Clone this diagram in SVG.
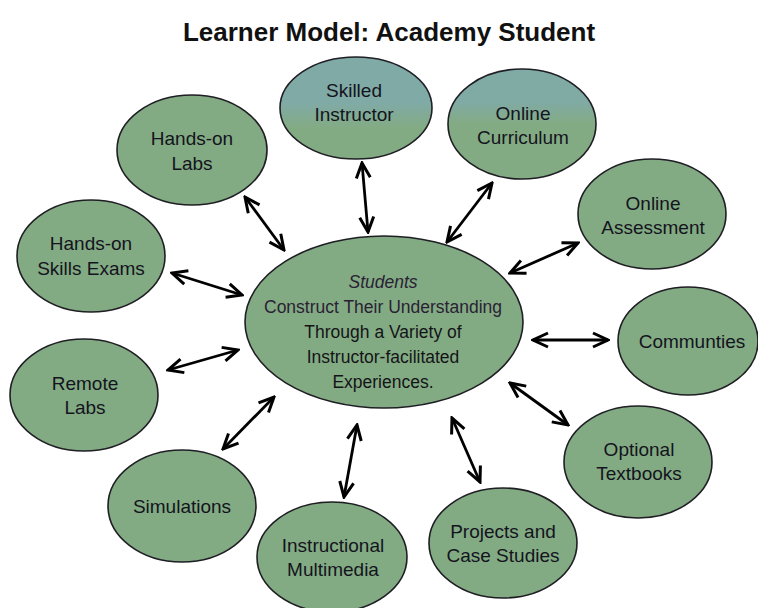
<svg xmlns="http://www.w3.org/2000/svg" width="758" height="608" viewBox="0 0 758 608">
<style>
.node ellipse{fill:#83ab83;stroke:#1e1e24;stroke-width:1.6}
.node text{font-family:"Liberation Sans",Arial,sans-serif;font-size:19px;fill:#141420;text-anchor:middle}
.ctr text{font-family:"Liberation Sans",Arial,sans-serif;font-size:17.5px;fill:#141418;text-anchor:middle}
.title{font-family:"Liberation Sans",Arial,sans-serif;font-size:26px;font-weight:bold;fill:#111;text-anchor:middle}
#connectors line{stroke:#000;stroke-width:2.8;marker-start:url(#ah);marker-end:url(#ah)}
</style>
<defs>
<marker id="ah" markerUnits="userSpaceOnUse" viewBox="-18 -10 20 20" refX="0" refY="0" markerWidth="20" markerHeight="20" orient="auto-start-reverse">
<path d="M-15,-7 L0,0 L-15,7" fill="none" stroke="#000" stroke-width="3" stroke-linejoin="miter"/>
</marker>
<linearGradient id="teal" x1="0" y1="0" x2="0" y2="1">
<stop offset="0" stop-color="#80aaa6"/>
<stop offset="0.45" stop-color="#80aaa6"/>
<stop offset="0.7" stop-color="#83ab83"/>
<stop offset="1" stop-color="#83ab83"/>
</linearGradient>
<linearGradient id="teal2" x1="0" y1="0" x2="0" y2="1">
<stop offset="0" stop-color="#80aaa4"/>
<stop offset="0.3" stop-color="#80aaa4"/>
<stop offset="0.5" stop-color="#83ab83"/>
<stop offset="1" stop-color="#83ab83"/>
</linearGradient>
</defs>
<rect width="758" height="608" fill="#fff"/>
<text class="title" x="389" y="41">Learner Model: Academy Student</text>

<g id="connectors">
<line x1="245" y1="197" x2="284" y2="250"/>
<line x1="362" y1="163" x2="368" y2="232"/>
<line x1="492" y1="183" x2="447" y2="242"/>
<line x1="578" y1="243" x2="510" y2="273"/>
<line x1="533" y1="340" x2="608" y2="340"/>
<line x1="510" y1="383" x2="568" y2="425"/>
<line x1="452" y1="418" x2="480" y2="482"/>
<line x1="357" y1="425" x2="344" y2="497"/>
<line x1="223" y1="449" x2="274" y2="397"/>
<line x1="168" y1="370" x2="238" y2="350"/>
<line x1="172" y1="273" x2="242" y2="295"/>
</g>

<g id="center" class="node ctr">
<ellipse cx="384" cy="322" rx="139" ry="86"/>
<text x="383" y="288" style="font-style:italic;fill:#2a1f35">Students</text>
<text x="383" y="313" style="fill:#2a1f35">Construct Their Understanding</text>
<text x="383" y="338">Through a Variety of</text>
<text x="383" y="363">Instructor-facilitated</text>
<text x="383" y="388">Experiences.</text>
</g>

<g id="hands-on-labs" class="node">
<ellipse cx="192" cy="150" rx="75" ry="55"/>
<text x="192" y="145">Hands-on</text>
<text x="192" y="170">Labs</text>
</g>

<g id="skilled-instructor" class="node">
<ellipse cx="356" cy="108" rx="76" ry="51" style="fill:url(#teal)"/>
<text x="354" y="97">Skilled</text>
<text x="354" y="121">Instructor</text>
</g>

<g id="online-curriculum" class="node">
<ellipse cx="522" cy="124" rx="74" ry="55" style="fill:url(#teal2)"/>
<text x="523" y="120">Online</text>
<text x="523" y="144">Curriculum</text>
</g>

<g id="online-assessment" class="node">
<ellipse cx="652" cy="214" rx="74" ry="55"/>
<text x="653" y="210">Online</text>
<text x="653" y="234">Assessment</text>
</g>

<g id="communities" class="node">
<ellipse cx="688" cy="341" rx="70" ry="54"/>
<text x="692" y="348">Communties</text>
</g>

<g id="optional-textbooks" class="node">
<ellipse cx="638" cy="462" rx="74" ry="56"/>
<text x="639" y="456">Optional</text>
<text x="639" y="480">Textbooks</text>
</g>

<g id="projects" class="node">
<ellipse cx="503" cy="543" rx="74" ry="55"/>
<text x="503" y="538">Projects and</text>
<text x="503" y="562">Case Studies</text>
</g>

<g id="instructional-multimedia" class="node">
<ellipse cx="332" cy="557" rx="75" ry="55"/>
<text x="333" y="552">Instructional</text>
<text x="333" y="576">Multimedia</text>
</g>

<g id="simulations" class="node">
<ellipse cx="182" cy="506" rx="74" ry="56"/>
<text x="182" y="513">Simulations</text>
</g>

<g id="remote-labs" class="node">
<ellipse cx="84" cy="395" rx="74" ry="56"/>
<text x="85" y="390">Remote</text>
<text x="85" y="414">Labs</text>
</g>

<g id="skills-exams" class="node">
<ellipse cx="91" cy="256" rx="74" ry="56"/>
<text x="91" y="250">Hands-on</text>
<text x="91" y="275">Skills Exams</text>
</g>
</svg>
